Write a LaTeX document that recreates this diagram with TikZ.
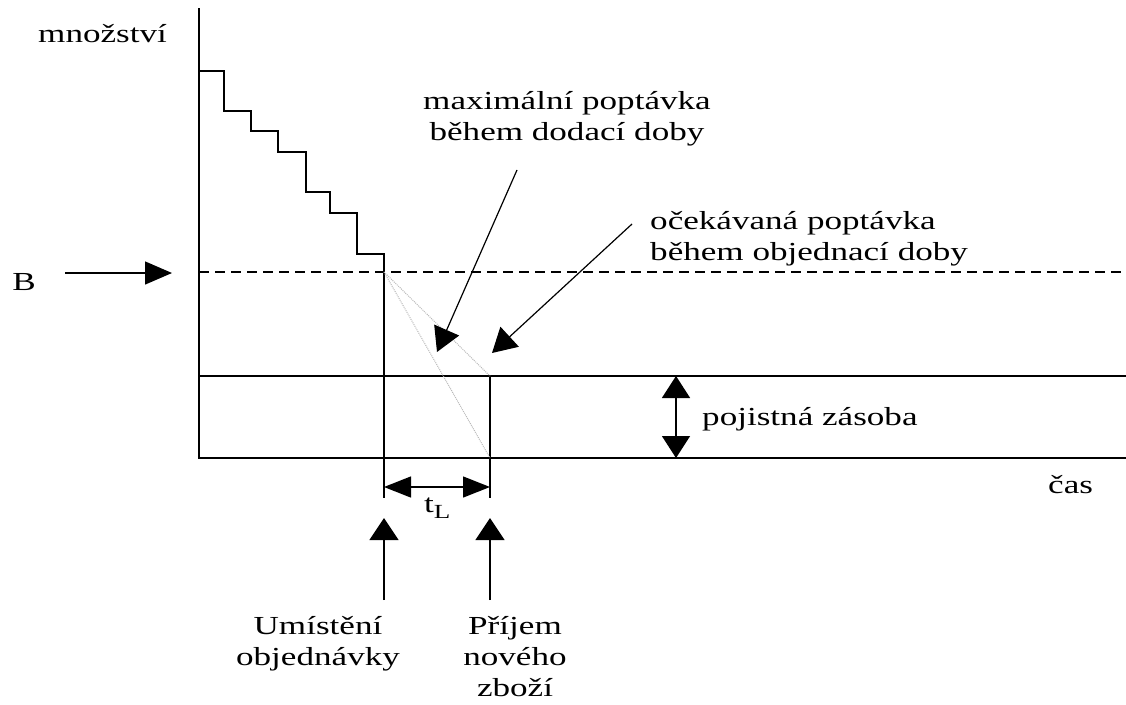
\documentclass[tikz,border=0pt]{standalone}
\usepackage{fontspec}
\setmainfont{Liberation Serif}[FakeStretch=1.35]
\usetikzlibrary{arrows.meta}
\begin{document}
\begin{tikzpicture}[x=1pt,y=-1pt,
  ax/.style={line width=1.7pt},
  guide/.style={line width=1pt,gray!55,densely dotted},
  dashline/.style={line width=1.4pt,dash pattern=on 10pt off 6pt},
  bigarrow/.style={line width=1.4pt,-{Triangle[length=24pt,width=27pt]}},
  dblarrow/.style={line width=1.4pt,{Triangle[length=22pt,width=28pt]}-{Triangle[length=22pt,width=28pt]}},
  lbl/.style={font=\fontsize{26}{31}\selectfont,inner sep=0pt,align=center}]
\useasboundingbox (0,0) rectangle (1126,704);
% key points
\coordinate (ytop) at (199,8);
\coordinate (o) at (199,458);
\coordinate (xend) at (1126,458);
\coordinate (sl) at (199,376);
\coordinate (sr) at (1126,376);
\coordinate (bl) at (199,272);
\coordinate (br) at (1126,272);
\coordinate (order) at (384,272);
\coordinate (orderbot) at (384,498);
\coordinate (recv) at (490,376);
\coordinate (recvmin) at (490,458);
\coordinate (recvbot) at (490,498);
% axes and horizontal levels
\draw[ax] (ytop) -- (o) -- (xend);
\draw[ax] (sl) -- (sr);
\draw[dashline] (bl) -- (br);
% staircase
\draw[ax] (199,71) -| (224,111) -| (251,131) -| (278,152) -| (306,192) -| (330,213) -| (357,254) -| (orderbot);
\draw[ax] (recv) -- (recvbot);
% demand lines
\draw[guide] (order) -- (recv);
\draw[guide] (order) -- (recvmin);
% labels
\node[lbl,anchor=base west] (mn) at (38,42) {množství};
\node[lbl,anchor=base west] (cas) at (1048,493) {čas};
\node[lbl,anchor=base] (B) at (24,290) {B};
\coordinate (Bs) at (65,273);
\coordinate (Bt) at (172,273);
\draw[bigarrow,-{Triangle[length=27pt,width=23pt]}] (Bs) -- (Bt);
\node[lbl,anchor=north] (maxd) at (567,91) {maximální poptávka\\během dodací doby};
\node[lbl,anchor=north west,align=left] (expd) at (650,211) {očekávaná poptávka\\během objednací doby};
\coordinate (a1s) at (517,170);
\coordinate (a1t) at (437,352);
\coordinate (a2s) at (632,224);
\coordinate (a2t) at (492,353);
\draw[bigarrow,line width=1.2pt] (a1s) -- (a1t);
\draw[bigarrow,line width=1.2pt] (a2s) -- (a2t);
% safety stock
\coordinate (ss1) at (676,376);
\coordinate (ss2) at (676,458);
\draw[dblarrow] (ss1) -- (ss2);
\node[lbl,anchor=base west] (pz) at (702,425) {pojistná zásoba};
% lead time
\coordinate (tl1) at (384,487);
\coordinate (tl2) at (490,487);
\draw[line width=1.4pt,{Triangle[length=27pt,width=21pt]}-{Triangle[length=27pt,width=21pt]}] (tl1) -- (tl2);
\node[lbl,anchor=base west] (tL) at (424,512) {t\raisebox{-6pt}{\fontsize{20}{24}\selectfont L}};
% event arrows
\coordinate (u1s) at (384,600);
\coordinate (u1t) at (384,518);
\coordinate (u2s) at (490,600);
\coordinate (u2t) at (490,518);
\draw[bigarrow,-{Triangle[length=22pt,width=29pt]}] (u1s) -- (u1t);
\draw[bigarrow,-{Triangle[length=22pt,width=29pt]}] (u2s) -- (u2t);
\node[lbl,anchor=north] (um) at (318,616) {Umístění\\objednávky};
\node[lbl,anchor=north] (pr) at (515,616) {Příjem\\nového\\zboží};
\end{tikzpicture}
\end{document}
